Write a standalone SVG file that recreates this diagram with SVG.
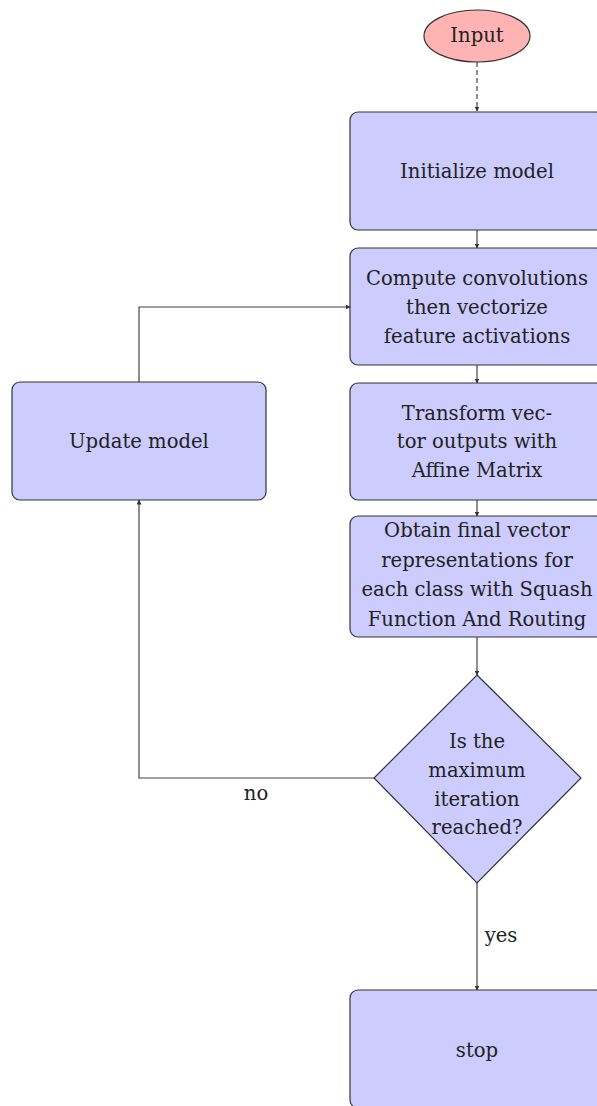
<svg xmlns="http://www.w3.org/2000/svg" width="597" height="1106" viewBox="0 0 597 1106">
  <style>
    .box { fill: #ccccff; stroke: #333; stroke-width: 1.2; }
    .start { fill: #ffb3b3; stroke: #333; stroke-width: 1.2; }
    .lbl { font-family: "DejaVu Serif", "Liberation Serif", serif; font-size: 19.6px; fill: #222; text-anchor: middle; }
    .edge { fill: none; stroke: #444; stroke-width: 1.2; }
    .dash { stroke-dasharray: 5 3; }
  </style>
  <defs>
    <marker id="tip" viewBox="0 0 10 10" refX="9" refY="5" markerWidth="5" markerHeight="5" orient="auto" markerUnits="userSpaceOnUse">
      <path d="M0,0 L10,5 L0,10 z" fill="#333"/>
    </marker>
  </defs>

  <rect width="597" height="1106" fill="#ffffff"/>

  <!-- connectors -->
  <g id="connectors">
    <path class="edge dash" d="M477,62 V111" marker-end="url(#tip)"/>
    <path class="edge" d="M477,230 V248" marker-end="url(#tip)"/>
    <path class="edge" d="M477,365 V383" marker-end="url(#tip)"/>
    <path class="edge" d="M477,500 V516" marker-end="url(#tip)"/>
    <path class="edge" d="M477,637 V675" marker-end="url(#tip)"/>
    <path class="edge" d="M139,382 V307 H350" marker-end="url(#tip)"/>
    <path class="edge" d="M374,778 H139 V500" marker-end="url(#tip)"/>
    <path class="edge" d="M477,883 V990" marker-end="url(#tip)"/>
    <text class="lbl" x="256" y="800">no</text>
    <text class="lbl" x="501" y="942">yes</text>
  </g>

  <g id="input">
    <ellipse class="start" cx="477" cy="36" rx="53" ry="26"/>
    <text class="lbl" x="477" y="42">Input</text>
  </g>

  <g id="init">
    <rect class="box" x="350" y="112" width="254" height="118" rx="8"/>
    <text class="lbl" x="477" y="178">Initialize model</text>
  </g>

  <g id="compute">
    <rect class="box" x="350" y="248" width="254" height="117" rx="8"/>
    <text class="lbl" x="477" y="285">Compute convolutions</text>
    <text class="lbl" x="477" y="314">then vectorize</text>
    <text class="lbl" x="477" y="343">feature activations</text>
  </g>

  <g id="transform">
    <rect class="box" x="350" y="383" width="254" height="117" rx="8"/>
    <text class="lbl" x="477" y="420">Transform vec-</text>
    <text class="lbl" x="477" y="448">tor outputs with</text>
    <text class="lbl" x="477" y="477">Affine Matrix</text>
  </g>

  <g id="obtain">
    <rect class="box" x="350" y="516" width="254" height="121" rx="8"/>
    <text class="lbl" x="477" y="537">Obtain final vector</text>
    <text class="lbl" x="477" y="567">representations for</text>
    <text class="lbl" x="477" y="596">each class with Squash</text>
    <text class="lbl" x="477" y="626">Function And Routing</text>
  </g>

  <g id="update">
    <rect class="box" x="12" y="382" width="254" height="118" rx="8"/>
    <text class="lbl" x="139" y="448">Update model</text>
  </g>

  <g id="decision">
    <polygon class="box" points="477,675 581,778 477,883 374,778"/>
    <text class="lbl" x="477" y="748">Is the</text>
    <text class="lbl" x="477" y="777">maximum</text>
    <text class="lbl" x="477" y="806">iteration</text>
    <text class="lbl" x="477" y="834">reached?</text>
  </g>

  <g id="stop">
    <rect class="box" x="350" y="990" width="254" height="118" rx="8"/>
    <text class="lbl" x="477" y="1057">stop</text>
  </g>
</svg>
